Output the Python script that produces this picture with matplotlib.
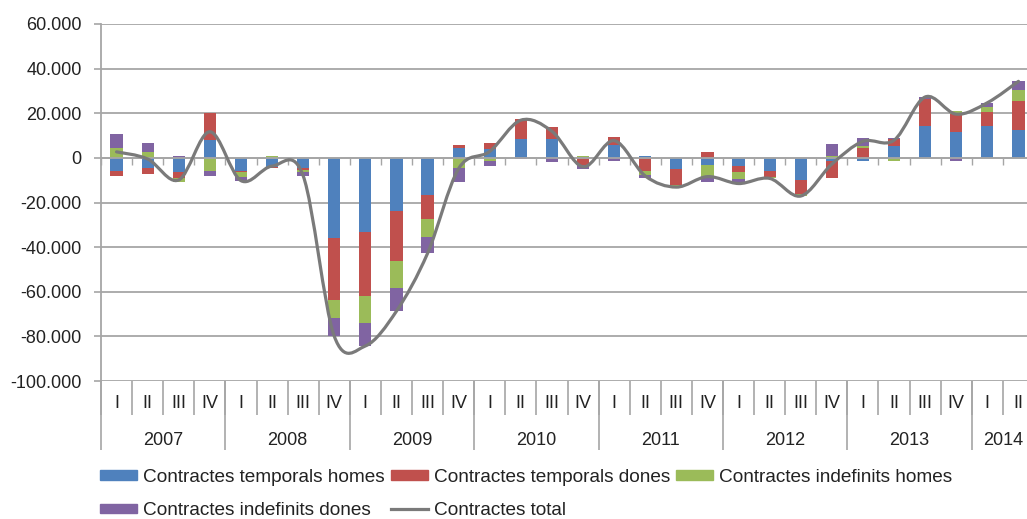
import numpy as np
import matplotlib
matplotlib.use('Agg')
import matplotlib.pyplot as plt
from matplotlib.path import Path
from matplotlib.patches import PathPatch, Patch
from matplotlib.lines import Line2D

years = ['2007', '2008', '2009', '2010', '2011', '2012', '2013', '2014']
quarters = ['I', 'II', 'III', 'IV'] * 7 + ['I', 'II']

temporals_homes = [-5800, -4600, -6500, 8000, -6000, -4000, -4500, -35900,
                   -33400, -23600, -16600, 4300, 3900, 8400, 8400, 500,
                   5800, 1000, -5100, -3000, -3700, -6000, -9700, -1500,
                   -1500, 5200, 14500, 11500, 14200, 12400]
temporals_dones = [-2200, -2700, -2500, 11900, -500, -500, -1000, -27600,
                   -28600, -22500, -10900, 1500, 2700, 9000, 5400, -3000,
                   3400, -6100, -7000, 2500, -2700, -2700, -6700, -7500,
                   4500, 3300, 11900, 8300, 6300, 13000]
indefinits_homes = [4300, 2800, -1900, -5700, -1900, 800, -1000, -8200,
                    -11900, -12200, -7800, -4600, -1500, 0, 0, 500,
                    0, -1500, -1000, -5700, -3000, -500, -700, 700,
                    1000, -1200, 0, 1300, 2400, 5200]
indefinits_dones = [6400, 4000, 1000, -2500, -1800, 0, -1500, -8200,
                    -10400, -10400, -7500, -6000, -2200, -500, -1900, -2000,
                    -1500, -1500, 0, -2200, -2100, 0, 0, 5500,
                    3400, 600, 900, -1500, 1800, 3700]

series = [temporals_homes, temporals_dones, indefinits_homes, indefinits_dones]
labels = ['Contractes temporals homes', 'Contractes temporals dones',
          'Contractes indefinits homes', 'Contractes indefinits dones']
colors = ['#4f81bd', '#c0504d', '#9bbb59', '#8064a2']

plt.rcParams['font.family'] = ['Liberation Sans', 'DejaVu Sans']
plt.rcParams['font.size'] = 13

W, H = 1027, 519
fig = plt.figure(figsize=(W / 100, H / 100), dpi=100)
ax = fig.add_axes([101 / W, 1 - 381 / H, 933 / W, 357 / H])

n = len(quarters)
x = np.arange(n)
pos = np.zeros(n)
neg = np.zeros(n)
for vals, c in zip(series, colors):
    v = np.array(vals, dtype=float)
    bottom = np.where(v >= 0, pos, neg)
    ax.bar(x, v, 0.39, bottom=bottom, color=c, zorder=2)
    pos += np.where(v >= 0, v, 0)
    neg += np.where(v < 0, v, 0)

total = np.sum(np.array(series, dtype=float), axis=0)

# smoothed line like excel (bezier through each point)
pts = np.column_stack([x, total])
verts = [pts[0]]
codes = [Path.MOVETO]
for i in range(n - 1):
    p0 = pts[max(i - 1, 0)]
    p1 = pts[i]
    p2 = pts[i + 1]
    p3 = pts[min(i + 2, n - 1)]
    verts += [p1 + (p2 - p0) / 6, p2 - (p3 - p1) / 6, p2]
    codes += [Path.CURVE4] * 3
ax.add_patch(PathPatch(Path(verts, codes), fill=False, edgecolor='#7a7a7a',
                       lw=2.3, zorder=3, capstyle='round'))

grid_c = '#a6a6a6'
ax.set_ylim(-100000, 60000)
ax.set_xlim(-0.5, n - 0.5)
yt = np.arange(-100000, 60001, 20000)
ax.set_yticks(yt)
ax.set_yticklabels([f'{v:,}'.replace(',', '.') if v != 0 else '0' for v in yt])
ax.yaxis.grid(True, color=grid_c, lw=1.3, zorder=0)
ax.tick_params(axis='y', length=5, width=1.2, color=grid_c, pad=9, labelcolor='#222222')

for s in ['top', 'right']:
    ax.spines[s].set_visible(False)
ax.spines['left'].set_color(grid_c)
ax.spines['left'].set_linewidth(1.3)
ax.spines['bottom'].set_position(('data', 0))
ax.spines['bottom'].set_color(grid_c)
ax.spines['bottom'].set_linewidth(1.3)
ax.set_xticks(np.arange(n + 1) - 0.5)
ax.tick_params(axis='x', length=5, width=1, color=grid_c, labelbottom=False)

tr = ax.get_xaxis_transform()
for i, q in enumerate(quarters):
    ax.text(i, -0.062, q, transform=tr, ha='center', va='center', color='#222222')
ax.vlines(np.arange(n + 1) - 0.5, -0.095, 0, transform=tr, colors=grid_c,
          lw=1.2, clip_on=False)
starts = [0]
for i in range(1, n):
    if quarters[i] == 'I':
        starts.append(i)
ends = starts[1:] + [n]
for y, a, b in zip(years, starts, ends):
    ax.text((a + b - 1) / 2, -0.166, y, transform=tr, ha='center', va='center',
            color='#222222')
ax.vlines(np.array(starts) - 0.5, -0.193, 0, transform=tr, colors=grid_c,
          lw=1.2, clip_on=False)

handles = [Patch(color=colors[0]), Patch(color=colors[3]), Patch(color=colors[1]),
           Line2D([], [], color='#7a7a7a', lw=2.3), Patch(color=colors[2])]
names = [labels[0], labels[3], labels[1], 'Contractes total', labels[2]]
fig.legend(handles, names, loc='upper left', bbox_to_anchor=(100 / W, 1 - 469 / H),
           ncol=3, frameon=False, borderpad=0, borderaxespad=0, fontsize=13.7,
           handlelength=1.95, handleheight=0.4, handletextpad=0.33,
           columnspacing=0.3, labelspacing=0.85, labelcolor='#222222')

fig.savefig('out.png', dpi=100)
